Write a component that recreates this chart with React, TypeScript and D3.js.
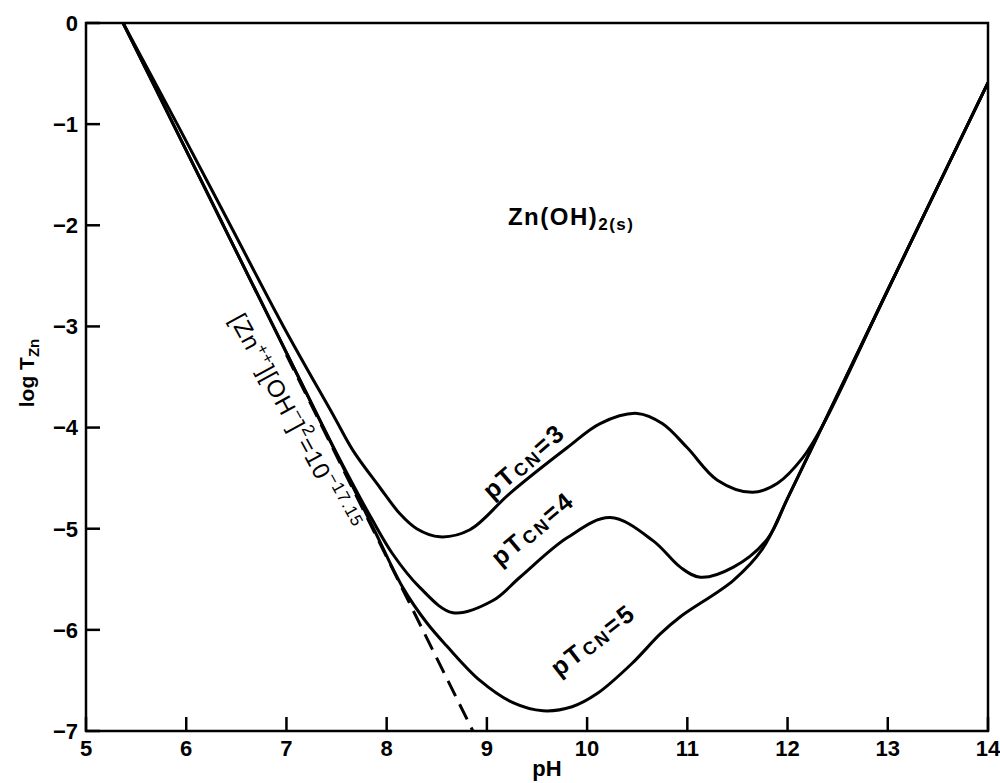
import React from 'react';
import * as d3 from 'd3';

const W = 1000;
const H = 783;
const margin = { top: 23, right: 12, bottom: 52, left: 86 };

const xTicks = [5, 6, 7, 8, 9, 10, 11, 12, 13, 14];
const yTicks = [0, -1, -2, -3, -4, -5, -6, -7];

// pH, log T_Zn
const pT3: [number, number][] = [
  [5.37, 0], [5.91, -1], [6.44, -2], [6.97, -3], [7.48, -3.9], [7.66, -4.22],
  [7.93, -4.59], [8.13, -4.85], [8.3, -5.0], [8.53, -5.08], [8.83, -5.01],
  [9.23, -4.65], [9.8, -4.2], [10.13, -3.96], [10.5, -3.86], [10.75, -3.96],
  [11.0, -4.2], [11.3, -4.52], [11.65, -4.64], [11.9, -4.55], [12.15, -4.3],
  [12.35, -3.98], [13, -2.64], [14, -0.59],
];
const pT4: [number, number][] = [
  [5.37, 0], [5.87, -1], [6.37, -2], [6.87, -3], [7.37, -4.0], [7.62, -4.48],
  [7.85, -4.9], [8.06, -5.25], [8.33, -5.58], [8.66, -5.83], [9.06, -5.71],
  [9.33, -5.48], [9.8, -5.09], [10.23, -4.89], [10.66, -5.12], [10.93, -5.38],
  [11.13, -5.48], [11.46, -5.38], [11.8, -5.1], [12.0, -4.7], [12.35, -3.98],
  [13, -2.64], [14, -0.59],
];
const pT5: [number, number][] = [
  [5.37, 0], [5.87, -1], [6.37, -2], [6.87, -3], [7.37, -4], [7.87, -5],
  [8.16, -5.58], [8.4, -5.93], [8.6, -6.16], [8.93, -6.5], [9.26, -6.72],
  [9.56, -6.8], [9.85, -6.76], [10.1, -6.63], [10.45, -6.33], [10.73, -6.04],
  [10.93, -5.87], [11.46, -5.51], [11.75, -5.2], [12.0, -4.7], [12.35, -3.98],
  [13, -2.64], [14, -0.59],
];
// [Zn++][OH-]^2 = 10^-17.15
const zincLine: [number, number][] = [[7.0, -3.28], [8.86, -7.0]];

const curveLabels = [
  { name: '3', pH: 9.05, logT: -4.72, angle: -41 },
  { name: '4', pH: 9.13, logT: -5.38, angle: -40 },
  { name: '5', pH: 9.72, logT: -6.47, angle: -38 },
];

export default function App() {
  const x = d3.scaleLinear().domain([5, 14]).range([margin.left, W - margin.right]);
  const y = d3.scaleLinear().domain([0, -7]).range([margin.top, H - margin.bottom]);
  const line = d3
    .line<[number, number]>()
    .x((d) => x(d[0]))
    .y((d) => y(d[1]))
    .curve(d3.curveCatmullRom.alpha(0.5));
  const straight = d3
    .line<[number, number]>()
    .x((d) => x(d[0]))
    .y((d) => y(d[1]));

  const font = "'Liberation Sans', Arial, Helvetica, sans-serif";
  const x0 = x(5), x1 = x(14), y0 = y(0), y1 = y(-7);

  return (
    <svg
      width={W}
      height={H}
      style={{ position: 'absolute', left: 0, top: 0, background: '#fff' }}
      fontFamily={font}
    >
      <defs>
        <clipPath id="plot">
          <rect x={x0} y={y0} width={x1 - x0} height={y1 - y0} />
        </clipPath>
      </defs>

      {/* frame */}
      <rect x={x0} y={y0} width={x1 - x0} height={y1 - y0} fill="none" stroke="#000" strokeWidth={2.5} />

      {/* y ticks */}
      {yTicks.map((t) => (
        <g key={'y' + t}>
          <line x1={x0} x2={x0 + 14} y1={y(t)} y2={y(t)} stroke="#000" strokeWidth={2.5} />
          <text x={x0 - 8} y={y(t)} dy="0.36em" textAnchor="end" fontSize={22} fontWeight="bold">
            {t === 0 ? '0' : '\u2212' + Math.abs(t)}
          </text>
        </g>
      ))}

      {/* x ticks */}
      {xTicks.map((t) => (
        <g key={'x' + t}>
          <line x1={x(t)} x2={x(t)} y1={y1} y2={y1 - 14} stroke="#000" strokeWidth={2.5} />
          <text x={x(t)} y={y1 + 25} textAnchor="middle" fontSize={22} fontWeight="bold">
            {t}
          </text>
        </g>
      ))}

      <text x={547} y={H - 7} textAnchor="middle" fontSize={22} fontWeight="bold">
        pH
      </text>
      <text transform={`translate(34,${(y0 + y1) / 2 - 4}) rotate(-90)`} textAnchor="middle" fontSize={21} fontWeight="bold">
        log T<tspan fontSize={15} dy={5}>Zn</tspan>
      </text>

      <g clipPath="url(#plot)" fill="none" stroke="#000" strokeWidth={3}>
        <path d={straight(zincLine) || ''} strokeDasharray="17 9" />
        <path d={line(pT5) || ''} />
        <path d={line(pT4) || ''} />
        <path d={line(pT3) || ''} />
      </g>

      {/* region label */}
      <text x={x(9.21)} y={y(-2.0)} fontSize={24} fontWeight="bold" letterSpacing={1.5}>
        Zn(OH)<tspan fontSize={17} dy={5}>2(s)</tspan>
      </text>

      {curveLabels.map((c) => (
        <text
          key={c.name}
          transform={`translate(${x(c.pH)},${y(c.logT)}) rotate(${c.angle})`}
          fontSize={25}
          fontWeight="bold"
          letterSpacing={2.5}
        >
          pT<tspan fontSize={18} dy={2}>CN</tspan>
          <tspan fontSize={25} dy={-2}>=</tspan>
          {c.name}
        </text>
      ))}

      <text transform={`translate(${x(6.43)},${y(-2.93)}) rotate(61.5)`} fontSize={24} letterSpacing={1}>
        [Zn<tspan fontSize={16} dy={-10}>++</tspan>
        <tspan dy={10}>][OH</tspan>
        <tspan fontSize={17} dy={-10}>{'\u2212'}</tspan>
        <tspan dy={10}>]</tspan>
        <tspan fontSize={17} dy={-11}>2</tspan>
        <tspan dy={11}>=10</tspan>
        <tspan fontSize={17} dy={-10}>{'\u2212'}17.15</tspan>
      </text>
    </svg>
  );
}
